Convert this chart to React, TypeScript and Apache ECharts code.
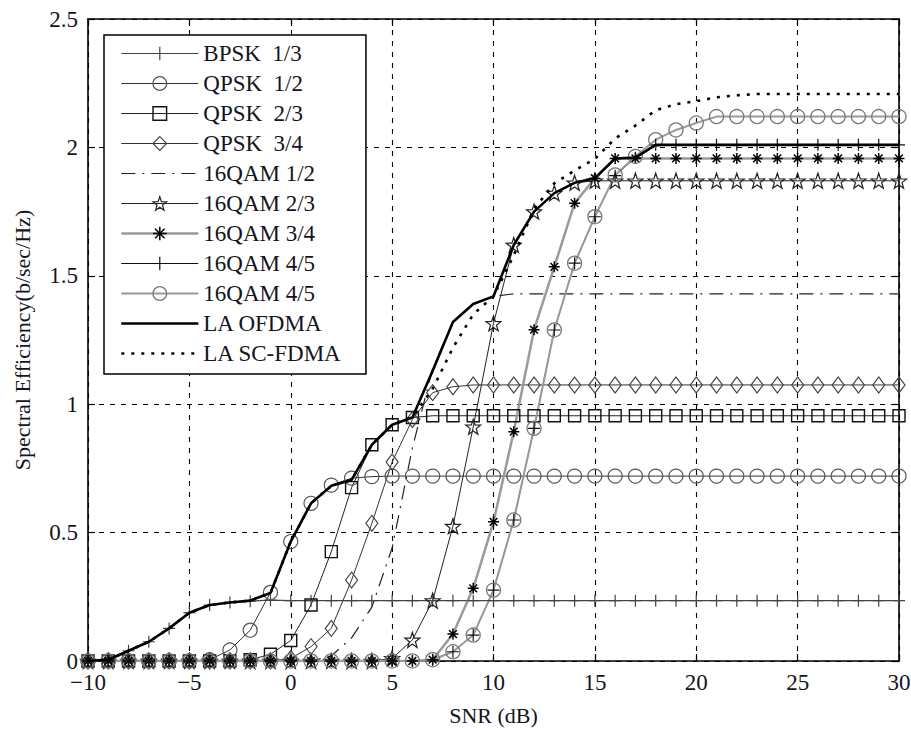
import React, { useEffect, useRef } from 'react';
import * as echarts from 'echarts';

// SNR (dB) sample points
const SNR = [-10, -9, -8, -7, -6, -5, -4, -3, -2, -1, 0, 1, 2, 3, 4, 5, 6, 7, 8, 9, 10, 11, 12, 13, 14, 15, 16, 17, 18, 19, 20, 21, 22, 23, 24, 25, 26, 27, 28, 29, 30];

const BPSK_13 = [0, 0.005, 0.04, 0.075, 0.127, 0.188, 0.218, 0.228, 0.233, 0.237, 0.235, 0.235, 0.235, 0.235, 0.235, 0.235, 0.235, 0.235, 0.235, 0.235, 0.235, 0.235, 0.235, 0.235, 0.235, 0.235, 0.235, 0.235, 0.235, 0.235, 0.235, 0.235, 0.235, 0.235, 0.235, 0.235, 0.235, 0.235, 0.235, 0.235, 0.235];
const QPSK_12 = [0, 0, 0, 0, 0, 0, 0.005, 0.043, 0.12, 0.267, 0.465, 0.614, 0.685, 0.712, 0.718, 0.72, 0.72, 0.72, 0.72, 0.72, 0.72, 0.72, 0.72, 0.72, 0.72, 0.72, 0.72, 0.72, 0.72, 0.72, 0.72, 0.72, 0.72, 0.72, 0.72, 0.72, 0.72, 0.72, 0.72, 0.72, 0.72];
const QPSK_23 = [0, 0, 0, 0, 0, 0, 0, 0, 0.005, 0.026, 0.08, 0.218, 0.426, 0.675, 0.842, 0.92, 0.948, 0.955, 0.955, 0.955, 0.955, 0.955, 0.955, 0.955, 0.955, 0.955, 0.955, 0.955, 0.955, 0.955, 0.955, 0.955, 0.955, 0.955, 0.955, 0.955, 0.955, 0.955, 0.955, 0.955, 0.955];
const QPSK_34 = [0, 0, 0, 0, 0, 0, 0, 0, 0, 0, 0.01, 0.056, 0.127, 0.315, 0.536, 0.775, 0.94, 1.045, 1.068, 1.075, 1.075, 1.075, 1.075, 1.075, 1.075, 1.075, 1.075, 1.075, 1.075, 1.075, 1.075, 1.075, 1.075, 1.075, 1.075, 1.075, 1.075, 1.075, 1.075, 1.075, 1.075];
const QAM16_12 = [0, 0, 0, 0, 0, 0, 0, 0, 0, 0, 0, 0, 0.02, 0.09, 0.21, 0.44, 0.83, 1.14, 1.32, 1.39, 1.42, 1.43, 1.43, 1.43, 1.43, 1.43, 1.43, 1.43, 1.43, 1.43, 1.43, 1.43, 1.43, 1.43, 1.43, 1.43, 1.43, 1.43, 1.43, 1.43, 1.43];
const QAM16_23 = [0, 0, 0, 0, 0, 0, 0, 0, 0, 0, 0, 0, 0, 0, 0, 0.01, 0.082, 0.235, 0.525, 0.912, 1.315, 1.62, 1.75, 1.822, 1.862, 1.87, 1.87, 1.87, 1.87, 1.87, 1.87, 1.87, 1.87, 1.87, 1.87, 1.87, 1.87, 1.87, 1.87, 1.87, 1.87];
const QAM16_34 = [0, 0, 0, 0, 0, 0, 0, 0, 0, 0, 0, 0, 0, 0, 0, 0, 0, 0.005, 0.105, 0.283, 0.542, 0.893, 1.29, 1.535, 1.783, 1.88, 1.957, 1.957, 1.957, 1.957, 1.957, 1.957, 1.957, 1.957, 1.957, 1.957, 1.957, 1.957, 1.957, 1.957, 1.957];
const QAM16_45A = [0, 0, 0, 0, 0, 0, 0, 0, 0, 0, 0, 0, 0, 0, 0, 0, 0, 0.005, 0.036, 0.101, 0.276, 0.549, 0.906, 1.289, 1.549, 1.73, 1.89, 1.96, 2.01, 2.01, 2.01, 2.01, 2.01, 2.01, 2.01, 2.01, 2.01, 2.01, 2.01, 2.01, 2.01];
const QAM16_45B = [0, 0, 0, 0, 0, 0, 0, 0, 0, 0, 0, 0, 0, 0, 0, 0, 0, 0.005, 0.036, 0.101, 0.276, 0.549, 0.906, 1.289, 1.549, 1.73, 1.893, 1.965, 2.03, 2.068, 2.095, 2.12, 2.12, 2.12, 2.12, 2.12, 2.12, 2.12, 2.12, 2.12, 2.12];
const LA_OFDMA = [0, 0.005, 0.04, 0.075, 0.127, 0.188, 0.218, 0.228, 0.235, 0.265, 0.465, 0.614, 0.682, 0.705, 0.842, 0.92, 0.948, 1.13, 1.32, 1.39, 1.42, 1.62, 1.75, 1.822, 1.862, 1.88, 1.957, 1.96, 2.01, 2.01, 2.01, 2.01, 2.01, 2.01, 2.01, 2.01, 2.01, 2.01, 2.01, 2.01, 2.01];
const LA_SCFDMA = [0, 0.005, 0.04, 0.075, 0.127, 0.188, 0.218, 0.228, 0.235, 0.265, 0.465, 0.614, 0.682, 0.705, 0.842, 0.92, 0.95, 1.06, 1.22, 1.35, 1.42, 1.58, 1.76, 1.86, 1.91, 1.955, 2.035, 2.085, 2.145, 2.168, 2.18, 2.195, 2.203, 2.208, 2.208, 2.208, 2.208, 2.208, 2.208, 2.208, 2.208];

const X_TICKS = { min: -10, max: 30, interval: 5 };
const Y_TICKS = { min: 0, max: 2.5, interval: 0.5 };

const FONT = "'Liberation Serif', 'Times New Roman', serif";
const TXT = '#141420';

const PLUS = 'path://M10,0L10,20M0,10L20,10';
const STAR = 'path://M10,0L12.35,6.76L19.51,6.91L13.8,11.24L15.88,18.09L10,14L4.12,18.09L6.2,11.24L0.49,6.91L7.65,6.76Z';
const ASTER = 'path://M10,0L10,20M0,10L20,10M3,3L17,17M3,17L17,3';

function mk(name: string, ys: number[], o: any) {
  return {
    type: 'line',
    name,
    data: SNR.map((x, i) => [x, ys[i]]),
    smooth: false,
    symbol: o.symbol || 'none',
    symbolSize: o.symbolSize || 12,
    showSymbol: !!o.symbol,
    lineStyle: { color: o.lineColor || '#222', width: o.lineWidth || 1, type: o.lineType || 'solid' },
    itemStyle: o.symbol
      ? { color: 'transparent', borderColor: o.markColor || '#222', borderWidth: o.markWidth || 1.2 }
      : { color: 'transparent', borderColor: 'transparent', borderWidth: 0 },
    emphasis: { disabled: true },
    z: o.z || 2,
  };
}

export default function App() {
  const ref = useRef<HTMLDivElement>(null);
  useEffect(() => {
    const chart = echarts.init(ref.current!, null, { renderer: 'svg', width: 911, height: 729 });
    const splitLine = { show: true, lineStyle: { color: '#000', width: 1.1, type: [5, 6] } };
    const axisLine = { show: true, onZero: false, lineStyle: { color: '#000', width: 1.6 } };
    const axisTick = { show: true, inside: true, length: 7, lineStyle: { color: '#000', width: 1.2 } };
    const option: any = {
      animation: false,
      backgroundColor: '#fff',
      grid: { left: 88, right: 12, top: 19, bottom: 68, outerBoundsMode: 'none' },
      legend: {
        orient: 'vertical',
        left: 104,
        top: 35,
        padding: [7, 24, 9, 16],
        itemWidth: 77,
        itemHeight: 17,
        itemGap: 7,
        backgroundColor: '#fff',
        borderColor: '#000',
        borderWidth: 1.5,
        borderRadius: 0,
        selectedMode: false,
        lineStyle: { width: 'inherit' },
        itemStyle: { borderWidth: 'inherit' },
        textStyle: { fontFamily: FONT, fontSize: 23, color: TXT, lineHeight: 23 },
      },
      xAxis: [
        {
          type: 'value', ...X_TICKS, position: 'bottom',
          axisLine, axisTick, splitLine,
          axisLabel: {
            fontFamily: FONT, fontSize: 23, color: TXT, margin: 10,
            formatter: (v: number) => (v < 0 ? '\u2212' + Math.abs(v) : String(v)),
          },
          name: 'SNR (dB)', nameLocation: 'middle', nameGap: 43,
          nameTextStyle: { fontFamily: FONT, fontSize: 22, color: TXT },
        },
        {
          type: 'value', ...X_TICKS, position: 'top',
          axisLine, axisTick, splitLine: { show: false }, axisLabel: { show: false },
        },
      ],
      yAxis: [
        {
          type: 'value', ...Y_TICKS, position: 'left',
          axisLine, axisTick, splitLine,
          axisLabel: { fontFamily: FONT, fontSize: 23, color: TXT, margin: 10 },
          name: 'Spectral Efficiency(b/sec/Hz)', nameLocation: 'middle', nameGap: 55, nameRotate: 90,
          nameTextStyle: { fontFamily: FONT, fontSize: 22, color: TXT },
        },
        {
          type: 'value', ...Y_TICKS, position: 'right',
          axisLine, axisTick, splitLine: { show: false }, axisLabel: { show: false },
        },
      ],
      series: [
        mk('BPSK  1/3', BPSK_13, { symbol: PLUS, symbolSize: 12, lineColor: '#444', lineWidth: 1.2, markColor: '#444' }),
        mk('QPSK  1/2', QPSK_12, { symbol: 'circle', symbolSize: 14, lineColor: '#333', markColor: '#555' }),
        mk('QPSK  2/3', QPSK_23, { symbol: 'rect', symbolSize: 12, lineColor: '#222', markColor: '#111', markWidth: 1.4 }),
        mk('QPSK  3/4', QPSK_34, { symbol: 'diamond', symbolSize: [12, 16], lineColor: '#333', markColor: '#444' }),
        mk('16QAM 1/2', QAM16_12, { lineColor: '#222', lineWidth: 1.2, lineType: [14, 7, 2, 7] }),
        mk('16QAM 2/3', QAM16_23, { symbol: STAR, symbolSize: 15, lineColor: '#222', markColor: '#222' }),
        mk('16QAM 3/4', QAM16_34, { symbol: ASTER, symbolSize: 11, lineColor: '#9a9a9a', lineWidth: 2.5, markColor: '#000', markWidth: 1.5 }),
        mk('16QAM 4/5', QAM16_45A, { symbol: PLUS, symbolSize: 12, lineColor: '#111', markColor: '#111' }),
        mk('16QAM 4/5 ', QAM16_45B, { symbol: 'circle', symbolSize: 14, lineColor: '#9a9a9a', lineWidth: 2, markColor: '#777', markWidth: 1.3 }),
        mk('LA OFDMA', LA_OFDMA, { lineColor: '#000', lineWidth: 2.6, z: 3 }),
        mk('LA SC-FDMA', LA_SCFDMA, { lineColor: '#000', lineWidth: 2.6, lineType: [3, 7], z: 3 }),
      ],
    };
    chart.setOption(option);
    return () => chart.dispose();
  }, []);
  return (
    <div
      ref={ref}
      style={{ position: 'absolute', left: 0, top: 0, width: 911, height: 729, background: '#fff' }}
    />
  );
}
